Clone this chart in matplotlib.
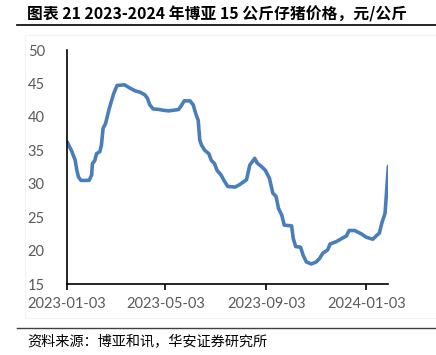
import pandas as pd
import matplotlib.pyplot as plt
import matplotlib.dates as mdates
from matplotlib.patches import Rectangle
from matplotlib.lines import Line2D

plt.rcParams['font.family'] = ['Noto Sans CJK SC', 'DejaVu Sans']

# 15kg piglet price, yuan/kg
dates = [
    "2023-01-03", "2023-01-09", "2023-01-13", "2023-01-15", "2023-01-17", "2023-01-20",
    "2023-01-30", "2023-02-02", "2023-02-03", "2023-02-06", "2023-02-08", "2023-02-12",
    "2023-02-14", "2023-02-16", "2023-02-19", "2023-02-23", "2023-02-26", "2023-03-01",
    "2023-03-05", "2023-03-14", "2023-03-21", "2023-03-27", "2023-04-02", "2023-04-08",
    "2023-04-11", "2023-04-14", "2023-04-18", "2023-04-26", "2023-04-30", "2023-05-07",
    "2023-05-19", "2023-05-22", "2023-05-26", "2023-06-02", "2023-06-06", "2023-06-09",
    "2023-06-12", "2023-06-14", "2023-06-16", "2023-06-20", "2023-06-25", "2023-06-28",
    "2023-07-02", "2023-07-05", "2023-07-10", "2023-07-13", "2023-07-18", "2023-07-27",
    "2023-08-02", "2023-08-10", "2023-08-14", "2023-08-20", "2023-08-23", "2023-08-28",
    "2023-09-02", "2023-09-07", "2023-09-11", "2023-09-15", "2023-09-18", "2023-09-22",
    "2023-09-25", "2023-10-04", "2023-10-06", "2023-10-09", "2023-10-15", "2023-10-18",
    "2023-10-22", "2023-10-28", "2023-11-03", "2023-11-07", "2023-11-11", "2023-11-17",
    "2023-11-20", "2023-11-27", "2023-12-04", "2023-12-10", "2023-12-13", "2023-12-20",
    "2023-12-28", "2024-01-03", "2024-01-11", "2024-01-16", "2024-01-19", "2024-01-22",
    "2024-01-26", "2024-01-30",
]
prices = [
    36.3, 34.8, 33.5, 32.0, 31.0, 30.5,
    30.5, 31.3, 33.0, 33.5, 34.5, 34.8,
    35.8, 38.3, 39.0, 41.0, 42.3, 43.5,
    44.7, 44.8, 44.3, 43.9, 43.7, 43.3,
    42.8, 41.8, 41.2, 41.1, 41.0, 40.9,
    41.1, 41.6, 42.4, 42.4, 41.8, 40.5,
    39.5, 36.5, 35.8, 35.0, 34.5, 33.5,
    33.0, 32.0, 31.3, 30.6, 29.6, 29.5,
    29.9, 30.6, 32.8, 33.8, 33.1, 32.6,
    32.0, 30.8, 28.6, 28.1, 26.3, 25.3,
    23.8, 23.7, 21.8, 20.6, 20.5, 19.3,
    18.3, 18.0, 18.3, 18.8, 19.6, 20.1,
    21.0, 21.3, 21.8, 22.2, 23.0, 23.0,
    22.5, 22.0, 21.7, 22.3, 22.6, 24.1,
    25.6, 32.6,
]
tick_dates = ["2023-01-03", "2023-05-03", "2023-09-03", "2024-01-03"]
yticks = [15, 20, 25, 30, 35, 40, 45, 50]

title = "图表 21 2023-2024 年博亚 15 公斤仔猪价格，元/公斤"
source = "资料来源：博亚和讯，华安证券研究所"

x = pd.to_datetime(dates)

fig = plt.figure(figsize=(4.36, 3.55), dpi=100)
ax = fig.add_axes([0.1537, 0.2, 0.737, 0.659])

ax.plot(x, prices, color="#4a7ebb", lw=2.6, solid_joinstyle="round",
        solid_capstyle="round")

ax.set_xlim(x[0], x[-1])
ax.set_ylim(15, 50)
ax.set_yticks(yticks)
ax.set_xticks(pd.to_datetime(tick_dates))
ax.xaxis.set_major_formatter(mdates.DateFormatter("%Y-%m-%d"))

for s in ["top", "right"]:
    ax.spines[s].set_visible(False)
ax.spines["left"].set_linewidth(1.2)
ax.spines["bottom"].set_linewidth(1.2)
ax.tick_params(axis="y", length=0, pad=16, labelsize=10.5, labelcolor="#595959")
ax.tick_params(axis="x", length=4, width=1.2, direction="out", pad=5,
               labelsize=10.5, labelcolor="#595959")
for lab in ax.get_xticklabels() + ax.get_yticklabels():
    lab.set_family("Lato")

# faint chart-area border
fig.add_artist(Rectangle((25 / 436, 1 - 318 / 355), 420 / 436, 283 / 355,
                         transform=fig.transFigure, fill=False,
                         edgecolor="#f3f3f3", lw=0.8))

# title and rules
fig.text(27 / 436, 1 - 14 / 355, title, fontsize=11.4, fontweight="bold",
         va="center", ha="left", color="black")
fig.add_artist(Line2D([17 / 436, 1], [1 - 25 / 355] * 2, color="black", lw=1.2,
                      transform=fig.transFigure))
fig.add_artist(Line2D([17 / 436, 1], [1 - 327.5 / 355] * 2, color="#404040", lw=1.0,
                      transform=fig.transFigure))
fig.text(27 / 436, 1 - 342 / 355, source, fontsize=10.2, va="center", ha="left",
         color="black")

fig.savefig("out.png", dpi=100)
